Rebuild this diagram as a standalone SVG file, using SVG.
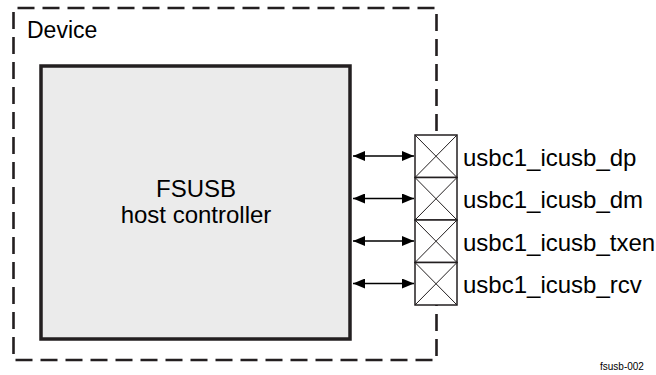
<svg xmlns="http://www.w3.org/2000/svg" width="656" height="375" viewBox="0 0 656 375">
<defs>
<style>
.t{font-family:"Liberation Sans",Arial,sans-serif;fill:#000}
.lbl{font-size:24px}
.pad{fill:#fff;stroke:#231f20;stroke-width:1.5}
.x{stroke:#231f20;stroke-width:1}
.arr{stroke:#000;stroke-width:1.5;fill:none;marker-start:url(#ah);marker-end:url(#ah)}
</style>
<marker id="ah" viewBox="0 0 12 10" refX="12" refY="5" markerWidth="12" markerHeight="10" markerUnits="userSpaceOnUse" orient="auto-start-reverse">
<path d="M0,0 L12,5 L0,10 Z" fill="#000"/>
</marker>
</defs>
<g id="device">
<rect x="13.5" y="8" width="423" height="352" fill="none" stroke="#231f20" stroke-width="2.6" stroke-dasharray="17 8" stroke-dashoffset="-4"/>
<text class="t" x="27" y="38" font-size="23">Device</text>
</g>
<g id="fsusb">
<rect x="41" y="66" width="309" height="273" fill="#ebebeb" stroke="#231f20" stroke-width="3.5"/>
<text class="t" x="196" y="197" font-size="24" text-anchor="middle">FSUSB</text>
<text class="t" x="196" y="223" font-size="24" text-anchor="middle">host controller</text>
</g>
<g id="connectors">
<line class="arr" x1="353" y1="156" x2="414" y2="156"/>
<line class="arr" x1="353" y1="198.5" x2="414" y2="198.5"/>
<line class="arr" x1="353" y1="241" x2="414" y2="241"/>
<line class="arr" x1="353" y1="283.5" x2="414" y2="283.5"/>
</g>
<g id="pad-dp">
<rect class="pad" x="415" y="135" width="42" height="42.5"/>
<path class="x" d="M415,135 L457,177.5 M457,135 L415,177.5"/>
<text class="t lbl" x="463" y="165.5">usbc1_icusb_dp</text>
</g>
<g id="pad-dm">
<rect class="pad" x="415" y="177.5" width="42" height="42.5"/>
<path class="x" d="M415,177.5 L457,220 M457,177.5 L415,220"/>
<text class="t lbl" x="463" y="208">usbc1_icusb_dm</text>
</g>
<g id="pad-txen">
<rect class="pad" x="415" y="220" width="42" height="42.5"/>
<path class="x" d="M415,220 L457,262.5 M457,220 L415,262.5"/>
<text class="t lbl" x="463" y="250.5">usbc1_icusb_txen</text>
</g>
<g id="pad-rcv">
<rect class="pad" x="415" y="262.5" width="42" height="42.5"/>
<path class="x" d="M415,262.5 L457,305 M457,262.5 L415,305"/>
<text class="t lbl" x="463" y="293">usbc1_icusb_rcv</text>
</g>
<text class="t" x="600" y="370" font-size="10">fsusb-002</text>
</svg>
